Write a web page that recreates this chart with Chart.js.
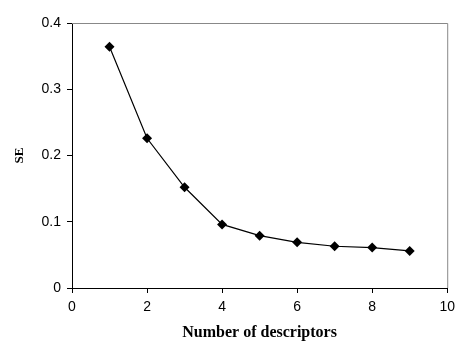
<!DOCTYPE html>
<html>
<head>
<meta charset="utf-8">
<script src="https://cdn.jsdelivr.net/npm/chart.js@4"></script>
<style>
html,body{margin:0;padding:0;background:#fff;}
#wrap{width:461px;height:349px;}
</style>
</head>
<body>
<div id="wrap"><canvas id="c" width="461" height="349"></canvas></div>
<script>
const descriptors = [1, 2, 3, 4, 5, 6, 7, 8, 9];
const seValues = [0.364, 0.226, 0.152, 0.096, 0.079, 0.069, 0.063, 0.061, 0.056];
const xTicks = [0, 2, 4, 6, 8, 10];
const yTicks = [0, 0.1, 0.2, 0.3, 0.4];

const frame = {
  id: 'frame',
  afterDatasetsDraw(chart) {
    const a = chart.chartArea, ctx = chart.ctx;
    ctx.save();
    ctx.strokeStyle = '#888';
    ctx.lineWidth = 1;
    ctx.beginPath();
    ctx.moveTo(a.left, a.top + 0.5);
    ctx.lineTo(a.right + 0.5, a.top + 0.5);
    ctx.lineTo(a.right + 0.5, a.bottom);
    ctx.stroke();
    ctx.restore();
  }
};

new Chart(document.getElementById('c'), {
  type: 'scatter',
  data: {
    datasets: [{
      data: descriptors.map((x, i) => ({x: x, y: seValues[i]})),
      showLine: true,
      borderColor: '#000',
      borderWidth: 1.2,
      pointStyle: 'rectRot',
      pointRadius: 5,
      pointBackgroundColor: '#000',
      pointBorderColor: '#000',
      pointBorderWidth: 0,
      tension: 0
    }]
  },
  plugins: [frame],
  options: {
    responsive: false,
    animation: false,
    events: [],
    layout: {padding: {left: 0, right: 9, top: 23, bottom: 0}},
    plugins: {legend: {display: false}, tooltip: {enabled: false}},
    scales: {
      x: {
        type: 'linear',
        min: 0, max: 10,
        afterBuildTicks(s) { s.ticks = xTicks.map(v => ({value: v})); },
        afterFit(s) { s.height = 61; },
        grid: {drawOnChartArea: false, drawTicks: true, tickLength: 5, color: '#000'},
        border: {color: '#000', width: 1},
        ticks: {color: '#000', font: {family: 'Liberation Sans, Arial', size: 14}, padding: 6, maxRotation: 0},
        title: {display: true, text: 'Number of descriptors', color: '#000',
          font: {family: 'Liberation Serif, Times New Roman', size: 16, weight: 'bold'},
          padding: {top: 0, bottom: 7}}
      },
      y: {
        type: 'linear',
        min: 0, max: 0.4,
        afterBuildTicks(s) { s.ticks = yTicks.map(v => ({value: v})); },
        afterFit(s) { s.width = 72; },
        grid: {drawOnChartArea: false, drawTicks: true, tickLength: 5, color: '#000'},
        border: {color: '#000', width: 1},
        ticks: {color: '#000', font: {family: 'Liberation Sans, Arial', size: 14}, padding: 6,
          callback: v => v === 0 ? '0' : v.toFixed(1)},
        title: {display: true, text: 'SE', color: '#000',
          font: {family: 'Liberation Serif, Times New Roman', size: 13, weight: 'bold'},
          padding: {top: 12, bottom: 0}}
      }
    }
  }
});
</script>
</body>
</html>
